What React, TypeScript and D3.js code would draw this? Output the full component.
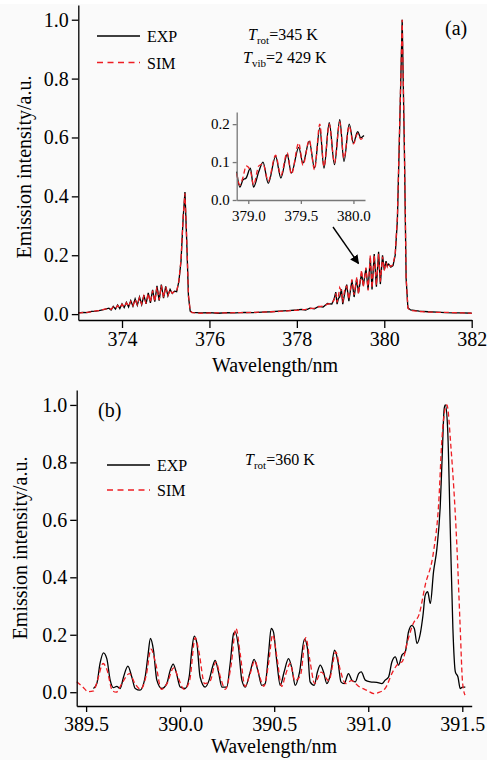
import React, { useEffect, useRef } from 'react';
import * as d3 from 'd3';

// panel (a): wavelength grid shared by EXP and SIM
const topWl = [
  373.0, 373.1, 373.2, 373.3, 373.4, 373.5, 373.6, 373.7,
  373.75, 373.8, 373.85, 373.9, 373.95, 374.0, 374.05, 374.1, 374.15, 374.2,
  374.25, 374.3, 374.35, 374.4, 374.45, 374.5, 374.55, 374.6, 374.65, 374.7,
  374.75, 374.8, 374.85, 374.9, 374.95, 375.0, 375.05, 375.1, 375.15, 375.2,
  375.25, 375.3, 375.35, 375.4, 375.44, 375.48, 375.52, 375.56, 375.6,
  375.8, 376.0, 376.2, 376.4, 376.6, 376.8, 377.0, 377.2, 377.4, 377.6, 377.8,
  378.0, 378.1, 378.2, 378.3, 378.4, 378.5, 378.6, 378.7, 378.8, 378.85,
  378.89, 378.92, 378.95, 378.98, 379.02, 379.05, 379.1, 379.14, 379.19, 379.26,
  379.31, 379.37, 379.41, 379.48, 379.52, 379.58, 379.63, 379.68, 379.72, 379.77,
  379.82, 379.87, 379.91, 379.96, 380.0, 380.04, 380.07, 380.1,
  380.15, 380.2, 380.25, 380.3, 380.35, 380.41, 380.46, 380.5, 380.54, 380.6,
  380.8, 381.0, 381.2, 381.4, 381.6, 381.8, 382.0,
];
const topExp = [
  0.004, 0.006, 0.005, 0.009, 0.01, 0.013, 0.016, 0.02,
  0.014, 0.026, 0.017, 0.031, 0.019, 0.035, 0.022, 0.04, 0.024, 0.046,
  0.027, 0.052, 0.03, 0.058, 0.032, 0.064, 0.035, 0.072, 0.038, 0.082,
  0.042, 0.096, 0.046, 0.1, 0.054, 0.094, 0.062, 0.084, 0.07, 0.078,
  0.076, 0.11, 0.18, 0.33, 0.415, 0.25, 0.06, 0.01, 0.006,
  0.004, 0.005, 0.003, 0.005, 0.004, 0.006, 0.005, 0.007, 0.008, 0.01, 0.012,
  0.014, 0.016, 0.014, 0.02, 0.018, 0.026, 0.024, 0.036, 0.034, 0.05,
  0.075, 0.034, 0.053, 0.058, 0.084, 0.034, 0.075, 0.1, 0.044, 0.115,
  0.058, 0.12, 0.071, 0.139, 0.097, 0.155, 0.084, 0.19, 0.084, 0.204,
  0.093, 0.212, 0.102, 0.2, 0.15, 0.18, 0.164, 0.17,
  0.16, 0.165, 0.2, 0.32, 0.62, 1.0, 0.56, 0.12, 0.022, 0.014,
  0.01, 0.008, 0.007, 0.005, 0.004, 0.004, 0.003,
];
const topSim = [
  0.003, 0.005, 0.006, 0.008, 0.011, 0.012, 0.017, 0.019,
  0.016, 0.024, 0.019, 0.029, 0.021, 0.033, 0.024, 0.038, 0.026, 0.043,
  0.029, 0.05, 0.032, 0.056, 0.034, 0.062, 0.036, 0.07, 0.04, 0.08,
  0.043, 0.092, 0.048, 0.098, 0.056, 0.092, 0.064, 0.082, 0.071, 0.077,
  0.077, 0.112, 0.185, 0.335, 0.41, 0.255, 0.065, 0.012, 0.005,
  0.003, 0.004, 0.004, 0.004, 0.005, 0.005, 0.006, 0.007, 0.008, 0.009, 0.011,
  0.013, 0.015, 0.016, 0.019, 0.02, 0.025, 0.027, 0.034, 0.037, 0.048,
  0.07, 0.04, 0.06, 0.09, 0.078, 0.04, 0.09, 0.095, 0.05, 0.118,
  0.065, 0.125, 0.068, 0.15, 0.092, 0.158, 0.08, 0.2, 0.088, 0.2,
  0.098, 0.205, 0.11, 0.195, 0.148, 0.175, 0.16, 0.168,
  0.162, 0.168, 0.205, 0.33, 0.63, 1.0, 0.57, 0.125, 0.02, 0.012,
  0.009, 0.007, 0.006, 0.006, 0.005, 0.004, 0.003,
];

// panel (b)
const botExpWl = [
  389.539, 389.557, 389.574, 389.592, 389.61, 389.628, 389.645, 389.663, 389.681, 389.699,
  389.722, 389.743, 389.761, 389.787, 389.814, 389.828, 389.842, 389.858, 389.876, 389.902,
  389.929, 389.947, 389.963, 389.979, 390.0, 390.027, 390.048, 390.062, 390.075, 390.089,
  390.106, 390.133, 390.154, 390.172, 390.186, 390.204, 390.222, 390.248, 390.266, 390.284,
  390.293, 390.31, 390.328, 390.346, 390.372, 390.393, 390.413, 390.434, 390.452, 390.47,
  390.484, 390.496, 390.514, 390.532, 390.553, 390.576, 390.594, 390.612, 390.635, 390.661,
  390.677, 390.691, 390.713, 390.73, 390.745, 390.762, 390.78, 390.798, 390.821, 390.839,
  390.855, 390.872, 390.895, 390.913, 390.931, 390.949, 390.963, 390.984, 391.011, 391.046,
  391.073, 391.09, 391.108, 391.126, 391.144, 391.161, 391.179, 391.197, 391.214, 391.232,
  391.245, 391.259, 391.277, 391.291, 391.303, 391.316, 391.33, 391.347, 391.365, 391.383,
  391.392, 391.404, 391.41, 391.422, 391.436, 391.45, 391.463, 391.477, 391.489, 391.502,
  391.516,
];
const botExp = [
  0.013, 0.03, 0.1, 0.137, 0.117, 0.042, 0.016, 0.02, 0.013, 0.053,
  0.091, 0.053, 0.013, 0.007, 0.053, 0.123, 0.187, 0.147, 0.042, 0.013,
  0.03, 0.076, 0.098, 0.07, 0.018, 0.013, 0.053, 0.147, 0.195, 0.17,
  0.053, 0.018, 0.042, 0.088, 0.111, 0.07, 0.018, 0.018, 0.1, 0.204,
  0.21, 0.157, 0.042, 0.018, 0.07, 0.114, 0.076, 0.024, 0.03, 0.135,
  0.222, 0.21, 0.106, 0.024, 0.071, 0.117, 0.083, 0.024, 0.071, 0.185,
  0.152, 0.036, 0.024, 0.071, 0.094, 0.071, 0.03, 0.059, 0.146, 0.106,
  0.036, 0.03, 0.065, 0.042, 0.036, 0.065, 0.071, 0.042, 0.036, 0.034,
  0.03, 0.042, 0.053, 0.106, 0.123, 0.094, 0.129, 0.141, 0.21, 0.233,
  0.222, 0.17, 0.205, 0.268, 0.338, 0.35, 0.309, 0.419, 0.5, 0.652,
  0.802, 0.988, 1.0, 0.919, 0.57, 0.222, 0.071, 0.053, 0.013, 0.018,
  0.018,
];
const botSimWl = [
  389.45, 389.48, 389.512, 389.54, 389.56, 389.59, 389.61, 389.64, 389.66, 389.69,
  389.73, 389.76, 389.79, 389.82, 389.845, 389.87, 389.9, 389.93, 389.965, 389.99,
  390.02, 390.05, 390.08, 390.1, 390.13, 390.16, 390.19, 390.215, 390.24, 390.27,
  390.297, 390.32, 390.345, 390.37, 390.397, 390.42, 390.445, 390.47, 390.492, 390.515,
  390.54, 390.56, 390.585, 390.61, 390.64, 390.668, 390.69, 390.715, 390.75, 390.79,
  390.828, 390.85, 390.88, 390.91, 390.95, 391.0, 391.03, 391.06, 391.09, 391.13,
  391.16, 391.18, 391.21, 391.24, 391.27, 391.303, 391.347, 391.374, 391.392, 391.41,
  391.418, 391.44, 391.471, 391.489, 391.5, 391.51, 391.515,
];
const botSim = [
  0.036, 0.02, 0.002, 0.005, 0.04, 0.1, 0.08, 0.005, 0.0, 0.03,
  0.065, 0.03, 0.01, 0.06, 0.15, 0.1, 0.01, 0.03, 0.085, 0.05,
  0.01, 0.04, 0.19, 0.14, 0.03, 0.04, 0.105, 0.05, 0.01, 0.09,
  0.222, 0.13, 0.02, 0.06, 0.11, 0.06, 0.02, 0.1, 0.2, 0.12,
  0.02, 0.06, 0.1, 0.04, 0.06, 0.19, 0.11, 0.03, 0.07, 0.04,
  0.14, 0.08, 0.03, 0.04, 0.02, 0.004, -0.005, 0.0, 0.013, 0.071,
  0.1, 0.106, 0.18, 0.24, 0.27, 0.373, 0.489, 0.652, 0.884, 0.99,
  1.0, 0.85, 0.512, 0.222, 0.047, -0.002, -0.01,
];

const topXTicks = [374, 376, 378, 380, 382];
const yTicks = [0, 0.2, 0.4, 0.6, 0.8, 1.0];
const insetXTicks = [379.0, 379.5, 380.0];
const insetYTicks = [0, 0.1, 0.2];
const botXTicks = [389.5, 390.0, 390.5, 391.0, 391.5];

const FONT = '"Liberation Serif", "Times New Roman", serif';
const RED = '#ee1d23';

const App = () => {
  const svgRef = useRef(null);

  useEffect(() => {
    const svg = d3.select(svgRef.current);
    svg.selectAll('*').remove();

    svg.append('rect')
      .attr('x', 0).attr('y', 4)
      .attr('width', 487).attr('height', 756)
      .attr('fill', '#fafafa');

    const defs = svg.append('defs');
    defs.append('marker')
      .attr('id', 'arrowhead')
      .attr('viewBox', '0 0 10 10')
      .attr('refX', 9).attr('refY', 5)
      .attr('markerWidth', 9).attr('markerHeight', 9)
      .attr('markerUnits', 'userSpaceOnUse')
      .attr('orient', 'auto')
      .append('path')
      .attr('d', 'M0,0 L10,5 L0,10 Z')
      .attr('fill', '#000');

    const styleAxis = (g, size, color) => {
      g.attr('font-family', FONT).attr('font-size', size);
      g.selectAll('path').attr('stroke', color).attr('stroke-width', 1.3);
      g.selectAll('line').attr('stroke', color).attr('stroke-width', 1.3);
      g.selectAll('text').attr('fill', '#000');
    };

    const drawCurves = (g, x, y, wlE, vE, wlS, vS, curve) => {
      const line = d3.line().x(d => x(d[0])).y(d => y(d[1])).curve(curve);
      g.append('path')
        .datum(wlE.map((w, i) => [w, vE[i]]))
        .attr('d', line)
        .attr('fill', 'none')
        .attr('stroke', '#000')
        .attr('stroke-width', 1.3);
      g.append('path')
        .datum(wlS.map((w, i) => [w, vS[i]]))
        .attr('d', line)
        .attr('fill', 'none')
        .attr('stroke', RED)
        .attr('stroke-width', 1.3)
        .attr('stroke-dasharray', '5,3');
    };

    const legend = (x0, yExp, ySim) => {
      svg.append('line')
        .attr('x1', x0).attr('x2', x0 + 43).attr('y1', yExp).attr('y2', yExp)
        .attr('stroke', '#000').attr('stroke-width', 1.3);
      svg.append('line')
        .attr('x1', x0).attr('x2', x0 + 43).attr('y1', ySim).attr('y2', ySim)
        .attr('stroke', RED).attr('stroke-width', 1.3).attr('stroke-dasharray', '6,4.5');
      svg.append('text').attr('x', x0 + 50).attr('y', yExp + 6)
        .attr('font-family', FONT).attr('font-size', 16).text('EXP');
      svg.append('text').attr('x', x0 + 50).attr('y', ySim + 6)
        .attr('font-family', FONT).attr('font-size', 16).text('SIM');
    };

    const temp = (x0, y0, sub, rest) => {
      const t = svg.append('text').attr('x', x0).attr('y', y0)
        .attr('font-family', FONT).attr('font-size', 16);
      t.append('tspan').attr('font-style', 'italic').text('T');
      t.append('tspan').attr('font-size', 11).attr('dy', 4).text(sub);
      t.append('tspan').attr('dy', -4).text(rest);
    };

    const yLabel = (xPos, yMid) => {
      svg.append('text')
        .attr('transform', `translate(${xPos},${yMid}) rotate(-90)`)
        .attr('text-anchor', 'middle')
        .attr('font-family', FONT).attr('font-size', 20)
        .text('Emission intensity/a.u.');
    };

    // ---------- panel (a) ----------
    const xA = d3.scaleLinear().domain([373, 382]).range([78.3, 471.7]);
    const yA = d3.scaleLinear().domain([-0.02, 1.05]).range([320, 5]);

    drawCurves(svg.append('g'), xA, yA, topWl, topExp, topWl, topSim, d3.curveLinear);

    svg.append('g')
      .attr('transform', `translate(0,${yA.range()[0]})`)
      .call(d3.axisBottom(xA).tickValues(topXTicks).tickFormat(d3.format('d'))
        .tickSize(8).tickSizeOuter(0).tickPadding(4))
      .call(g => styleAxis(g, 20, '#000'));
    svg.append('g')
      .attr('transform', `translate(${xA.range()[0]},0)`)
      .call(d3.axisLeft(yA).tickValues(yTicks).tickFormat(d3.format('.1f'))
        .tickSize(6.5).tickSizeOuter(0).tickPadding(3))
      .call(g => styleAxis(g, 20, '#000'));

    svg.append('text').attr('x', 275).attr('y', 372)
      .attr('text-anchor', 'middle').attr('font-family', FONT).attr('font-size', 20)
      .text('Wavelength/nm');
    yLabel(31, 167);

    legend(97, 36, 62.5);
    temp(248, 40, 'rot', '=345 K');
    temp(243, 63, 'vib', '=2 429 K');
    svg.append('text').attr('x', 445).attr('y', 35)
      .attr('font-family', FONT).attr('font-size', 20).text('(a)');

    // inset
    const xI = d3.scaleLinear().domain([378.89, 380.11]).range([236.7, 365]);
    const yI = d3.scaleLinear().domain([0, 0.232]).range([200, 112]);
    const keep = (w) => w >= 378.89 && w <= 380.1;
    const iIdx = topWl.map((w, i) => i).filter(i => keep(topWl[i]));
    drawCurves(svg.append('g'), xI, yI,
      iIdx.map(i => topWl[i]), iIdx.map(i => topExp[i]),
      iIdx.map(i => topWl[i]), iIdx.map(i => topSim[i]),
      d3.curveMonotoneX);
    svg.append('g')
      .attr('transform', `translate(0,${yI.range()[0]})`)
      .call(d3.axisBottom(xI).tickValues(insetXTicks).tickFormat(d3.format('.1f'))
        .tickSize(4).tickSizeOuter(0).tickPadding(6))
      .call(g => styleAxis(g, 15, '#777'));
    svg.append('g')
      .attr('transform', `translate(${xI.range()[0]},0)`)
      .call(d3.axisLeft(yI).tickValues(insetYTicks).tickFormat(d3.format('.1f'))
        .tickSize(4).tickSizeOuter(0).tickPadding(3))
      .call(g => styleAxis(g, 15, '#777'));

    svg.append('line')
      .attr('x1', 333).attr('y1', 227).attr('x2', 358.5).attr('y2', 263.5)
      .attr('stroke', '#000').attr('stroke-width', 1.4)
      .attr('marker-end', 'url(#arrowhead)');

    // ---------- panel (b) ----------
    const xB = d3.scaleLinear().domain([389.45, 391.55]).range([76.7, 471.7]);
    const yB = d3.scaleLinear().domain([-0.048, 1.052]).range([706, 390]);

    drawCurves(svg.append('g'), xB, yB, botExpWl, botExp, botSimWl, botSim, d3.curveMonotoneX);

    svg.append('g')
      .attr('transform', `translate(0,${yB.range()[0]})`)
      .call(d3.axisBottom(xB).tickValues(botXTicks).tickFormat(d3.format('.1f'))
        .tickSize(6).tickSizeOuter(0).tickPadding(5))
      .call(g => styleAxis(g, 20, '#000'));
    svg.append('g')
      .attr('transform', `translate(${xB.range()[0]},0)`)
      .call(d3.axisLeft(yB).tickValues(yTicks).tickFormat(d3.format('.1f'))
        .tickSize(6.5).tickSizeOuter(0).tickPadding(3))
      .call(g => styleAxis(g, 20, '#000'));

    svg.append('text').attr('x', 274).attr('y', 753)
      .attr('text-anchor', 'middle').attr('font-family', FONT).attr('font-size', 20)
      .text('Wavelength/nm');
    yLabel(27, 548);

    legend(107, 465, 490);
    temp(245, 465, 'rot', '=360 K');
    svg.append('text').attr('x', 98).attr('y', 417)
      .attr('font-family', FONT).attr('font-size', 20).text('(b)');
  }, []);

  return (
    <svg ref={svgRef} width={495} height={760}
      style={{ position: 'absolute', left: 0, top: 0, background: '#fff' }} />
  );
};

export default App;
